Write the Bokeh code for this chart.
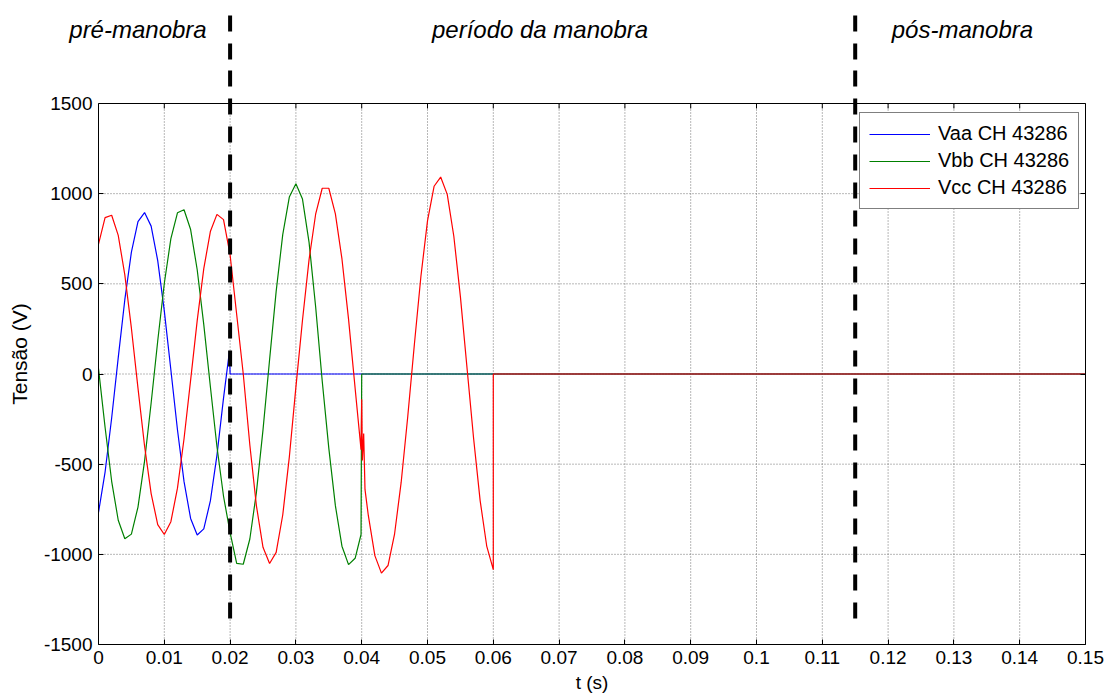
from bokeh.plotting import figure
from bokeh.models import Range1d, FixedTicker, LinearAxis, Legend, LegendItem
from bokeh.layouts import column
from bokeh.embed import file_html
from bokeh.resources import INLINE
from bokeh.core.properties import value

# ---------------- data ----------------
blue_t = [0.000, 0.001, 0.002, 0.003, 0.004, 0.005, 0.006, 0.007, 0.008, 0.009,
          0.010, 0.011, 0.012, 0.013, 0.014, 0.015, 0.016, 0.017, 0.018, 0.019,
          0.0199, 0.0200, 0.150]
blue_v = [-768, -544, -244, 91, 412, 676, 845, 895, 820, 629,
          350, 22, -309, -597, -801, -893, -859, -704, -451, -134,
          126, 0, 0]

green_t = [0.000, 0.001, 0.002, 0.003, 0.004, 0.005, 0.006, 0.007, 0.008, 0.009,
           0.010, 0.011, 0.012, 0.013, 0.014, 0.015, 0.016, 0.017, 0.018, 0.019,
           0.020, 0.021, 0.022, 0.023, 0.024, 0.025, 0.026, 0.027, 0.028, 0.029,
           0.030, 0.031, 0.032, 0.033, 0.034, 0.035, 0.036, 0.037, 0.038, 0.039,
           0.0399, 0.0400, 0.150]
green_v = [30, -295, -595, -811, -914, -888, -738, -483, -161, 183,
           502, 751, 894, 911, 801, 578, 274, -69, -402, -678,
           -880, -1050, -1055, -915, -656, -310, 79, 458, 773, 981,
           1055, 970, 730, 373, -39, -411, -730, -955, -1057, -1022,
           -890, 0, 0]

red_t = [0.000, 0.001, 0.002, 0.003, 0.004, 0.005, 0.006, 0.007, 0.008, 0.009,
         0.010, 0.011, 0.012, 0.013, 0.014, 0.015, 0.016, 0.017, 0.018, 0.019,
         0.020, 0.021, 0.022, 0.023, 0.024, 0.025, 0.026, 0.027, 0.028, 0.029,
         0.030, 0.031, 0.032, 0.033, 0.034, 0.035, 0.036, 0.037, 0.038, 0.039,
         0.0399, 0.0400, 0.0401, 0.0403, 0.0405,
         0.041, 0.042, 0.043, 0.044, 0.045, 0.046, 0.047, 0.048, 0.049,
         0.050, 0.051, 0.052, 0.053, 0.054, 0.055, 0.056, 0.057, 0.058, 0.059,
         0.060, 0.060, 0.150]
red_v = [720, 867, 880, 769, 550, 254, -78, -399, -663, -835,
         -890, -819, -633, -359, -34, 296, 584, 790, 885, 856,
         660, 330, 0, -394, -731, -961, -1051, -989, -782, -461,
         -73, 298, 634, 886, 1030, 1030, 888, 638, 304, -79,
         -420, -140, -480, -330, -640,
         -783, -1007, -1104, -1062, -886, -600, -236, 162, 542,
         849, 1041, 1092, 996, 764, 429, 36, -355, -702, -954,
         -1085, 0, 0]

series_names = ["Vaa CH 43286", "Vbb CH 43286", "Vcc CH 43286"]
series_colors = ["#0000ff", "#008000", "#ff0000"]

event_times = [0.02, 0.115]          # start / end of the switching period
phase_labels = ["pré-manobra", "período da manobra", "pós-manobra"]
phase_label_t = [0.006, 0.0671, 0.1313]

x_ticks = [0.00, 0.01, 0.02, 0.03, 0.04, 0.05, 0.06, 0.07, 0.08, 0.09,
           0.10, 0.11, 0.12, 0.13, 0.14, 0.15]
x_tick_labels = ["0", "0.01", "0.02", "0.03", "0.04", "0.05", "0.06", "0.07",
                 "0.08", "0.09", "0.1", "0.11", "0.12", "0.13", "0.14", "0.15"]
y_ticks = [-1500, -1000, -500, 0, 500, 1000, 1500]
y_tick_labels = ["-1500", "-1000", "-500", "0", "500", "1000", "1500"]

FONT = "Liberation Sans"

# ---------------- layout constants ----------------
W, H = 1110, 698
BL, BR, BB = 98, 25, 54          # borders around the axes box
TOP_H = 63                       # separate title strip (full width, no clipping)
BAND = 40                        # part of the main frame above the axes box
XMIN, XMAX = x_ticks[0], x_ticks[-1]
YMIN, YMAX = y_ticks[0], y_ticks[-1]
MAIN_H = H - TOP_H
frame_h = MAIN_H - BB
box_h = frame_h - BAND
v_per_px = (YMAX - YMIN) / box_h
t_per_px = (XMAX - XMIN) / (W - BL - BR)
y_top = YMAX + BAND * v_per_px


def page_to_v(py):
    """data y of the main figure for a page row py"""
    return y_top - (py - TOP_H) * v_per_px


# ---------------- title strip ----------------
top = figure(width=W, height=TOP_H,
             x_range=Range1d(XMIN - BL * t_per_px, XMAX + BR * t_per_px),
             y_range=Range1d(TOP_H, 0),
             output_backend="svg", toolbar_location=None,
             min_border_left=0, min_border_right=0, min_border_top=0, min_border_bottom=0)
if "frame_align" in top.properties():
    top.frame_align = False
top.axis.visible = False
top.grid.visible = False
top.outline_line_color = None
top.background_fill_color = "white"
top.border_fill_color = "white"
top.segment(x0=event_times, y0=[15] * 2, x1=event_times, y1=[TOP_H] * 2,
            line_color="black", line_width=4, line_dash="16 12")
top.text(x=phase_label_t, y=[29] * 3, text=phase_labels,
         text_font=value(FONT), text_font_size="24px", text_font_style="italic",
         text_align="center", text_baseline="middle", text_color="black")

# ---------------- main plot ----------------
p = figure(width=W, height=MAIN_H, x_range=Range1d(XMIN, XMAX), y_range=Range1d(YMIN, y_top),
           output_backend="svg", toolbar_location=None,
           min_border_left=BL, min_border_right=BR,
           min_border_top=0, min_border_bottom=BB)
if "frame_align" in p.properties():
    p.frame_align = False
p.background_fill_color = "white"
p.border_fill_color = "white"
p.outline_line_color = None
p.grid.visible = False

for ax in (p.xaxis[0], p.yaxis[0]):
    ax.major_tick_in = 5
    ax.major_tick_out = 0
    ax.minor_tick_line_color = None
    ax.axis_line_color = "black"
    ax.major_tick_line_color = "black"
    ax.major_label_text_font = FONT
    ax.major_label_text_font_size = "19px"
    ax.major_label_text_color = "black"
    ax.axis_label_text_font = FONT
    ax.axis_label_text_font_style = "normal"
    ax.axis_label_text_color = "black"

p.xaxis.ticker = FixedTicker(ticks=x_ticks)
p.xaxis.major_label_overrides = {t: s for t, s in zip(x_ticks, x_tick_labels)}
p.xaxis.axis_label = "t (s)"
p.xaxis.axis_label_text_font_size = "19px"
p.xaxis.major_label_standoff = 6
p.xaxis.axis_label_standoff = 5

p.yaxis.ticker = FixedTicker(ticks=y_ticks)
p.yaxis.bounds = (YMIN, YMAX)
p.yaxis.major_label_overrides = {t: s for t, s in zip(y_ticks, y_tick_labels)}
p.yaxis.axis_label = "Tensão (V)"
p.yaxis.axis_label_text_font_size = "21px"
p.yaxis.major_label_standoff = 6
p.yaxis.axis_label_standoff = 10

right_ax = LinearAxis(ticker=FixedTicker(ticks=y_ticks), bounds=(YMIN, YMAX),
                      major_label_overrides={t: "" for t in y_ticks},
                      major_label_standoff=0, major_tick_in=5, major_tick_out=0,
                      minor_tick_line_color=None, axis_line_color="black")
p.add_layout(right_ax, "right")

# dotted grid inside the axes box
gx = x_ticks[1:-1]
gy = y_ticks[1:-1]
p.segment(x0=gx, y0=[YMIN] * len(gx), x1=gx, y1=[YMAX] * len(gx),
          line_color="#707070", line_dash="1 2", line_width=1)
p.segment(x0=[XMIN] * len(gy), y0=gy, x1=[XMAX] * len(gy), y1=gy,
          line_color="#707070", line_dash="1 2", line_width=1)

# top edge of the axes box with inward ticks
p.segment(x0=[XMIN], y0=[YMAX], x1=[XMAX], y1=[YMAX], line_color="black", line_width=1)
p.segment(x0=x_ticks, y0=[YMAX] * len(x_ticks), x1=x_ticks,
          y1=[YMAX - 5 * v_per_px] * len(x_ticks), line_color="black", line_width=1)

r_blue = p.line(blue_t, blue_v, line_color=series_colors[0], line_width=1.2)
r_green = p.line(green_t, green_v, line_color=series_colors[1], line_width=1.2)
r_red = p.line(red_t, red_v, line_color=series_colors[2], line_width=1.2)

# dashed phase boundaries (continuing the ones of the title strip)
p.segment(x0=event_times, y0=[page_to_v(618)] * 2, x1=event_times, y1=[y_top] * 2,
          line_color="black", line_width=4, line_dash="16 12")

legend = Legend(items=[LegendItem(label=n, renderers=[r])
                       for n, r in zip(series_names, [r_blue, r_green, r_red])],
                location=(761, (H - BB) - 209))
legend.label_text_font = FONT
legend.label_text_font_size = "20px"
legend.label_text_color = "black"
legend.glyph_width = 61
legend.glyph_height = 20
legend.label_height = 20
legend.label_standoff = 8
legend.spacing = 4
legend.padding = 9
legend.margin = 0
legend.border_line_color = "black"
legend.border_line_width = 1
legend.background_fill_color = "white"
legend.background_fill_alpha = 1
p.add_layout(legend)

layout = column(top, p, spacing=0)
open("out.html", "w").write(file_html(layout, INLINE))
